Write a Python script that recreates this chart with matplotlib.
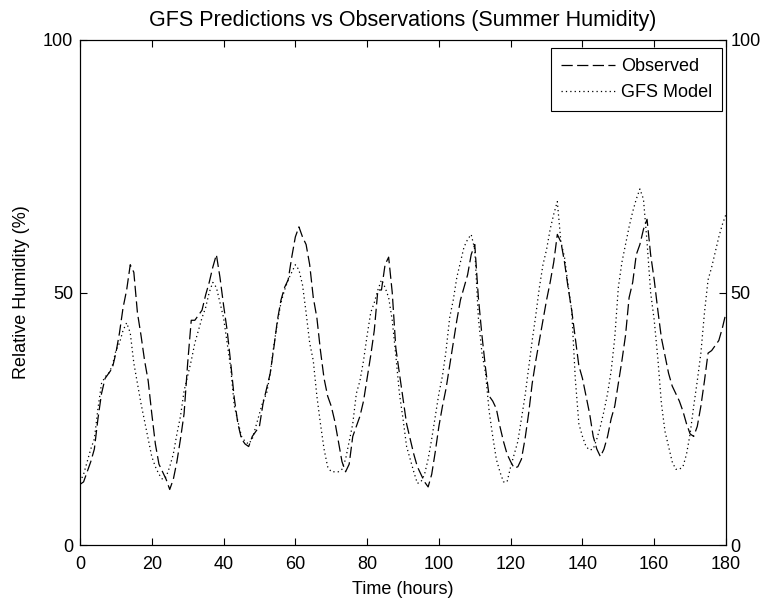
import matplotlib.pyplot as plt
import numpy as np

plt.rcParams.update({
    "font.family": ["Liberation Sans", "DejaVu Sans"],
    "font.size": 13,
    "axes.linewidth": 0.8,
})

# hourly samples, hour 0 .. 180
hours = np.arange(0, 181)

observed = [
    12, 12.5, 14.5, 16.5, 19, 25, 30, 33, 34, 35,
    38, 42, 47, 50.5, 55.5, 54, 46, 41.5, 36.5, 32.5,
    26, 20, 16, 14.5, 13, 11, 13, 16.5, 21, 26,
    36, 44.5, 44.5, 45.5, 46.5, 49.5, 52, 55, 57.5, 53,
    47.5, 42.5, 36, 29, 24, 21, 20, 19.5, 21.5, 22.5,
    23.5, 28, 31, 34, 39, 44.5, 48.5, 51, 52.5, 57,
    61, 63, 61, 59.5, 55.5, 49, 45, 38.5, 33, 29.5,
    27.5, 24.5, 20.5, 16.5, 14.5, 16, 21.5, 23.5, 25.5, 28.5,
    33, 37.5, 42.5, 50.5, 50.5, 55.5, 57, 50, 39, 34,
    29, 24, 21, 18, 15.5, 14, 12.5, 11.5, 14, 18.5,
    23.5, 27.5, 31, 35.5, 40, 44.5, 48.5, 51, 53.5, 57.5,
    59.5, 49, 41.5, 35, 29.5, 28.5, 27, 23.5, 20.5, 18,
    16.5, 15.2, 15.5, 17, 21, 26, 32, 36.5, 40.5, 44.5,
    48.5, 52, 56, 61.5, 60, 56, 51, 46.5, 41, 35.5,
    33, 29.5, 26, 21.5, 19, 17.5, 19, 21.5, 25, 27.5,
    32, 36.5, 41.5, 49, 52, 57.5, 59.5, 62.5, 64.5, 57.5,
    52.5, 46.5, 41, 37.5, 34, 31.5, 30, 28.5, 26.5, 24,
    22, 21.5, 23.5, 27.5, 32.5, 38, 38.5, 39.5, 40.5, 43,
    46,
]

gfs_model = [
    12.5, 14, 16.5, 19, 21, 27, 32, 33.3, 34, 35.5,
    38.5, 40, 42.5, 44, 42, 36, 32, 28, 24.5, 21,
    17.5, 15.5, 14, 13, 13.5, 15.5, 18, 22, 25.5, 30.5,
    33.5, 36.5, 40, 42.5, 45, 47, 50, 52, 51, 48,
    45, 40, 35, 27.5, 24.5, 21.5, 20.5, 20, 21, 23.5,
    26, 28.5, 30, 34, 39.5, 44, 48, 50.5, 52.5, 54,
    55.5, 54.5, 51.5, 46, 40, 36.5, 29.5, 24, 19, 15.5,
    14.5, 14.5, 14.5, 15, 17, 20.5, 24, 30, 32.5, 36.5,
    41.5, 46, 48, 50.5, 52.5, 51, 49, 44.5, 37.5, 30,
    25, 19.5, 17, 14.5, 12.2, 12.5, 14, 17, 21, 25.5,
    30, 33.5, 38.5, 45, 48.5, 53, 56, 59, 60.5, 61.5,
    58.5, 45, 38, 34, 26.5, 21.5, 17, 14.5, 12.5, 12.5,
    15.5, 18, 20.5, 25, 29.5, 35, 40.5, 45.5, 51, 55.5,
    58.5, 62.5, 65.5, 68, 60, 57, 51.5, 46.5, 33, 24,
    21.5, 19.5, 18.8, 19, 21, 23.5, 26.5, 30, 34.5, 41,
    51, 56, 59.5, 63, 66, 68.5, 70.5, 68.5, 60, 50,
    44.5, 37, 28, 22.5, 19.5, 16.5, 15, 15, 15.5, 18,
    22, 27.5, 32.5, 38, 46, 52.5, 55, 58, 61, 63.5,
    65.5,
]

x_ticks = [0, 20, 40, 60, 80, 100, 120, 140, 160, 180]
y_ticks = [0, 50, 100]

fig = plt.figure(figsize=(7.65, 6.05), dpi=100)
ax = fig.add_axes([80 / 765, 60 / 605, 646 / 765, 505 / 605])

ax.plot(hours, observed, color="black", linewidth=0.9,
        linestyle=(0, (9, 3.5)), label="Observed")
ax.plot(hours, gfs_model, color="black", linewidth=0.9,
        linestyle=(0, (1, 2.5)), label="GFS Model")

ax.set_xlim(0, 180)
ax.set_ylim(0, 100)
ax.set_xticks(x_ticks)
ax.set_yticks(y_ticks)
ax.tick_params(axis="both", direction="in", length=5, width=0.8,
               top=True, right=True, labelsize=13)
ax.tick_params(axis="x", pad=8)
ax.tick_params(axis="y", pad=5)

ax_r = ax.twinx()
ax_r.set_ylim(0, 100)
ax_r.set_yticks(y_ticks)
ax_r.tick_params(direction="in", length=5, width=0.8, labelsize=13, pad=3)

ax.set_xlabel("Time (hours)", fontsize=13, labelpad=6)
ax.set_ylabel("Relative Humidity (%)", fontsize=13, labelpad=9)
ax.set_title("GFS Predictions vs Observations (Summer Humidity)",
             fontsize=15.5, pad=10)

leg = ax.legend(loc="upper right", bbox_to_anchor=(722 / 765, 557 / 605),
                bbox_transform=fig.transFigure, borderaxespad=0,
                fontsize=13, frameon=True, fancybox=False,
                edgecolor="black", framealpha=1, handlelength=3.0,
                borderpad=0.55, labelspacing=0.5, handletextpad=0.3)
leg.get_frame().set_linewidth(0.8)

fig.savefig("out.png", dpi=100)
